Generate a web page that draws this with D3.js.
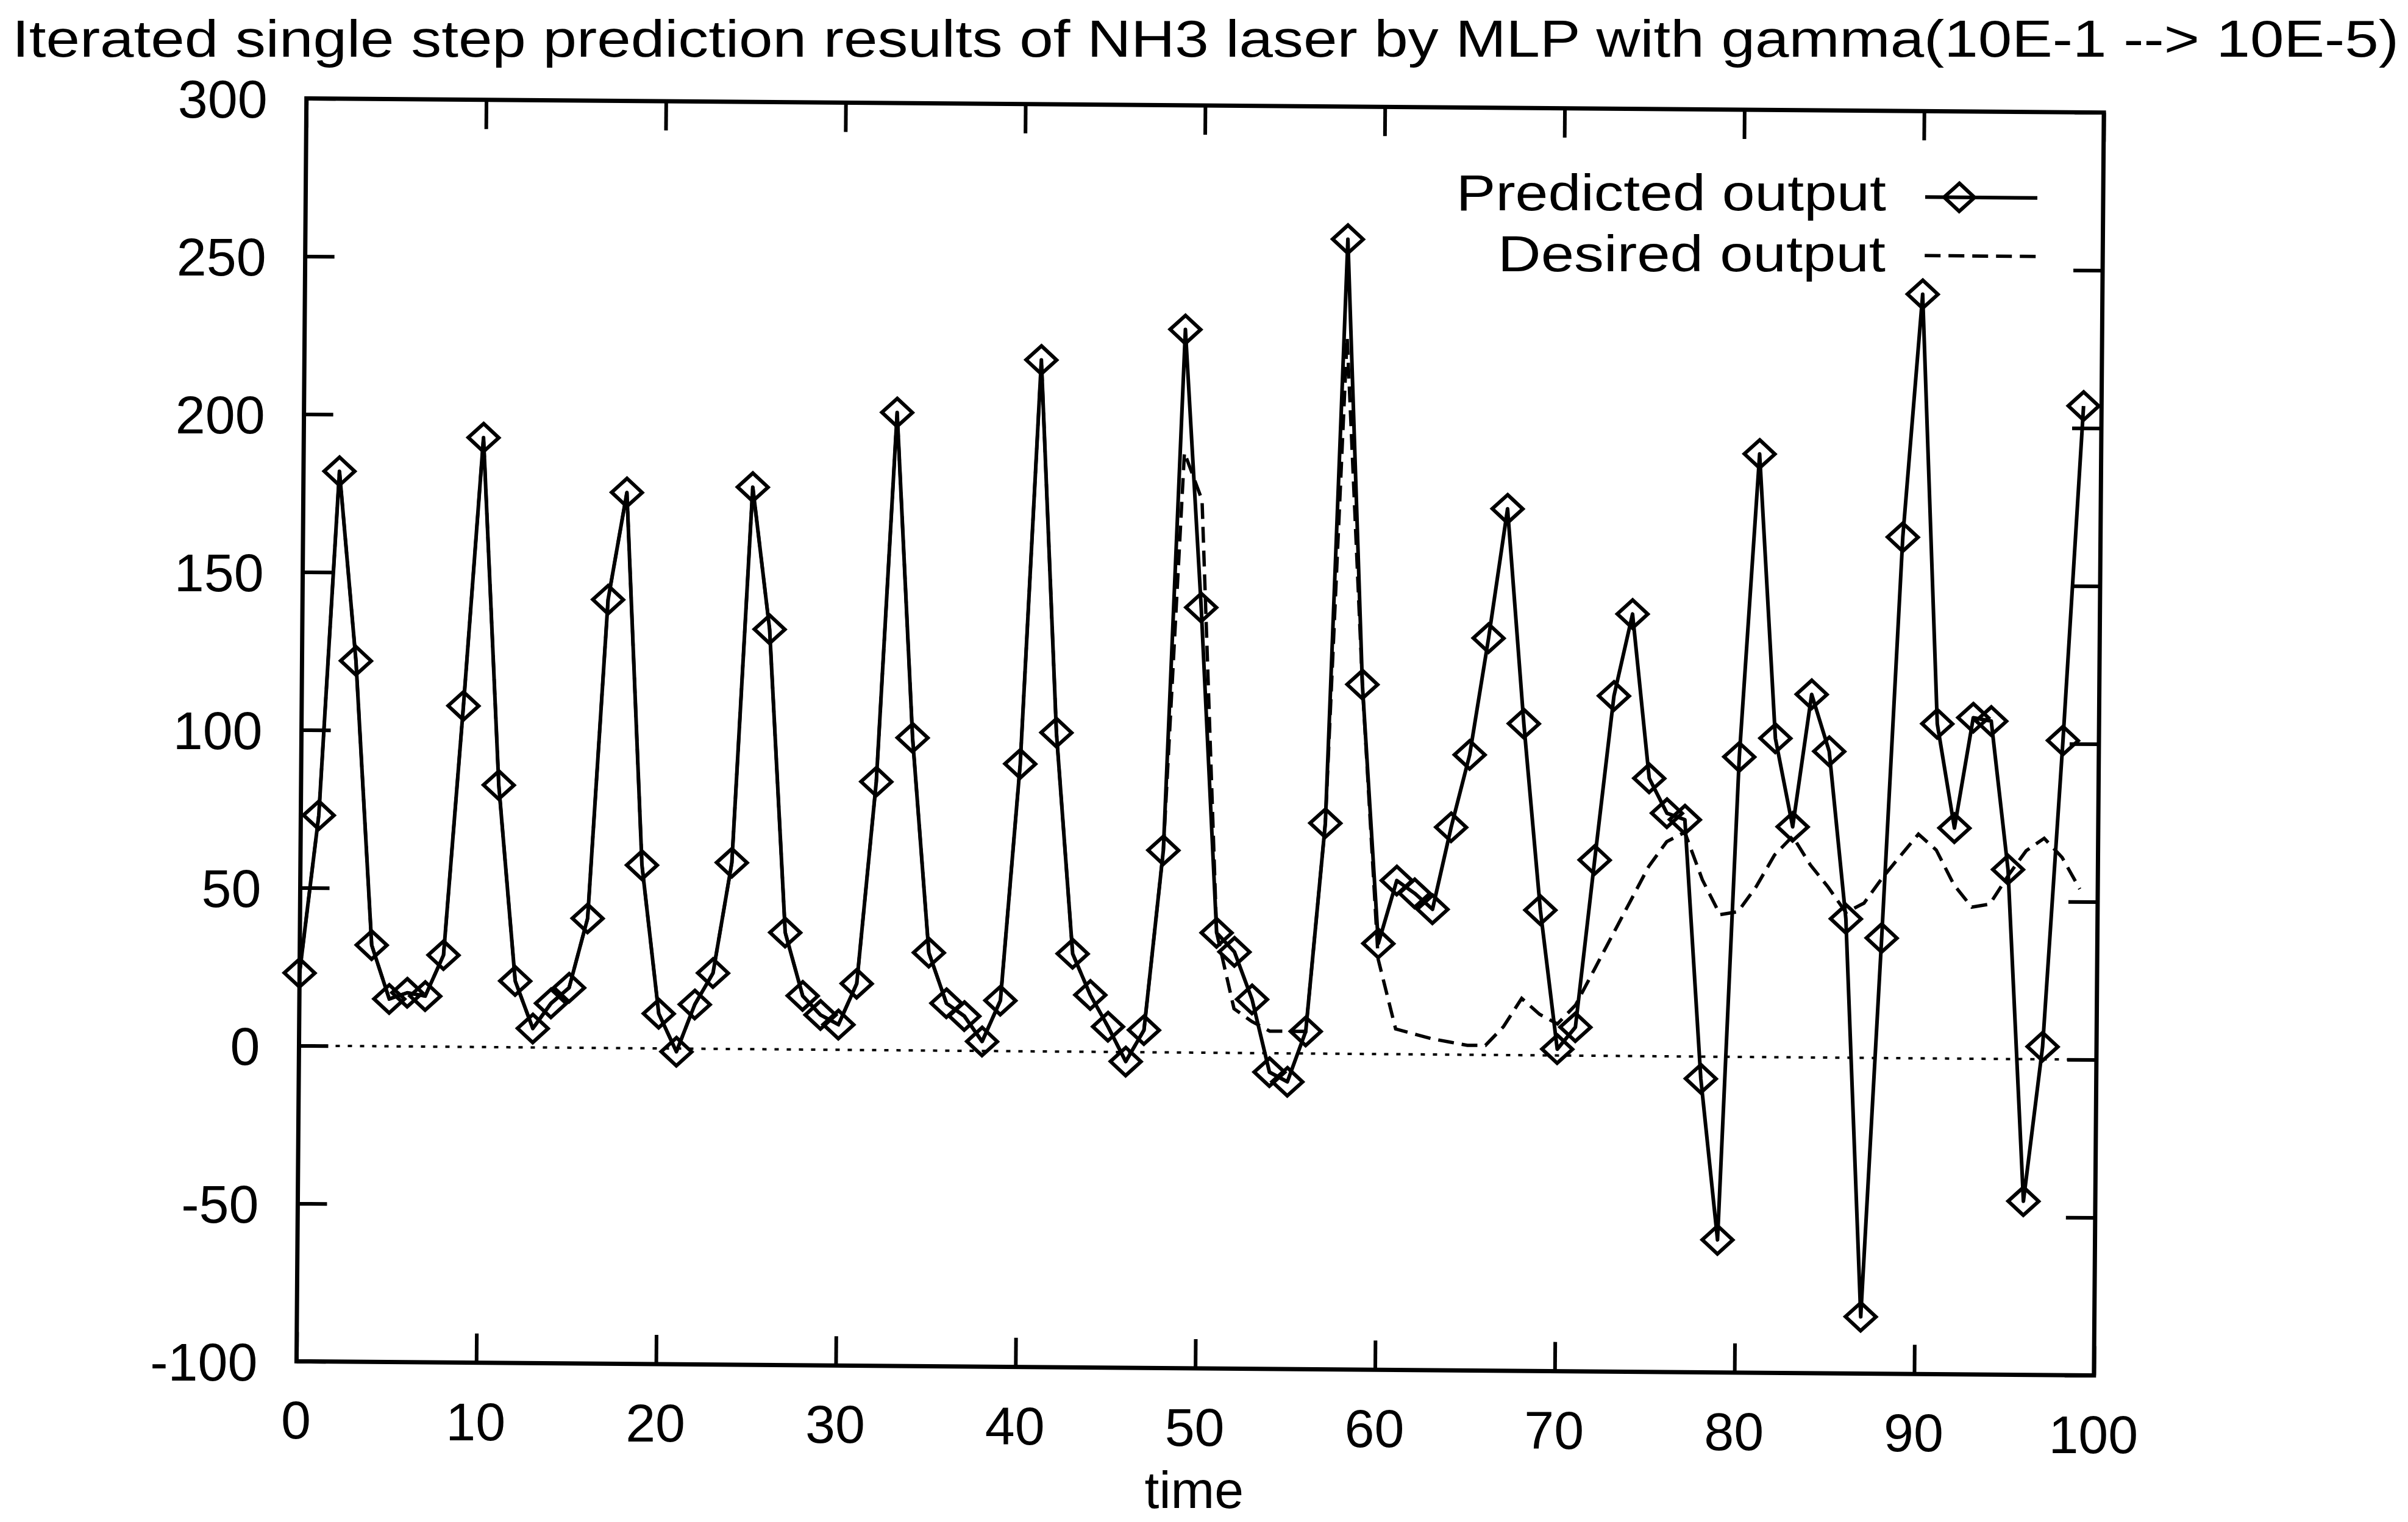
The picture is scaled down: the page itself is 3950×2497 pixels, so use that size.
<!DOCTYPE html>
<html>
<head>
<meta charset="utf-8">
<script src="https://cdn.jsdelivr.net/npm/d3@7"></script>
<style>
  html, body { margin: 0; padding: 0; background: #fff; }
  svg { display: block; }
  text { font-family: "Liberation Sans", Arial, Helvetica, sans-serif; fill: #000; }
</style>
</head>
<body>
<svg id="chart" width="3950" height="2497"></svg>
<script>
// Time steps of the iterated prediction
const times = [
  0, 1, 2, 3, 4, 5, 6, 7, 8, 9,
  10, 11, 12, 13, 14, 15, 16, 17, 18, 19,
  20, 21, 22, 23, 24, 25, 26, 27, 28, 29,
  30, 31, 32, 33, 34, 35, 36, 37, 38, 39,
  40, 41, 42, 43, 44, 45, 46, 47, 48, 49,
  50, 51, 52, 53, 54, 55, 56, 57, 58, 59,
  60, 61, 62, 63, 64, 65, 66, 67, 68, 69,
  70, 71, 72, 73, 74, 75, 76, 77, 78, 79,
  80, 81, 82, 83, 84, 85, 86, 87, 88, 89,
  90, 91, 92, 93, 94, 95, 96, 97, 98, 99
];

// Network output (line with diamond markers)
const predicted = [
  23, 73, 182, 122, 32, 15, 17, 16, 29, 108,
  193, 83, 21, 6, 14, 19, 41, 142, 176, 58,
  11, -1, 14, 24, 59, 178, 133, 37, 17, 11,
  8, 21, 85, 202, 99, 31, 15, 11, 3, 16,
  91, 219, 101, 31, 18, 8, -3, 7, 64, 229,
  141, 38, 32, 17, -6, -9, 7, 73, 258, 117,
  35, 55, 51, 46, 72, 95, 132, 173, 105, 46,
  2, 9, 62, 114, 140, 88, 77, 75, -7, -58,
  95, 191, 101, 73, 115, 97, 44, -82, 38, 165,
  242, 106, 73, 108, 107, 60, -45, 4, 101, 207
];

// NH3 laser target series (dashed line)
const desired = [
  23, 73, 182, 122, 32, 15, 17, 16, 29, 108,
  193, 83, 21, 6, 14, 19, 41, 142, 176, 58,
  11, -1, 14, 24, 59, 178, 133, 37, 17, 11,
  8, 21, 85, 202, 99, 31, 15, 11, 3, 16,
  91, 219, 101, 31, 18, 8, -3, 7, 64, 190,
  175, 38, 14, 10, 7, 7, 7, 73, 227, 117,
  30, 8, 6.5, 5, 4, 3, 3, 9, 18, 13,
  10, 16, 27, 38, 49, 60, 68, 71, 56, 45,
  46, 54, 64, 70, 61, 54, 46, 49, 57, 64,
  71, 66, 55, 48, 49, 58, 66, 70, 64, 54
];

const xTickValues = [0, 10, 20, 30, 40, 50, 60, 70, 80, 90, 100];
const yTickValues = [-100, -50, 0, 50, 100, 150, 200, 250, 300];
const titleText = "Iterated single step prediction results of NH3 laser by MLP with gamma(10E-1 --> 10E-5)";
const xAxisLabel = "time";
const seriesLabels = ["Predicted output", "Desired output"];

// ---- layout ----
const W = 3950, H = 2497;
const plot = { left: 494.5, right: 3443, top: 173, bottom: 2245 };
const cx = (plot.left + plot.right) / 2, cy = (plot.top + plot.bottom) / 2;
const tiltDeg = 0.45;
const tickLen = 48;
const fontStack = '"Liberation Sans", Arial, Helvetica, sans-serif';
const plainNumber = d => String(d);   // ASCII hyphen for negatives

// map a point of the untilted layout onto the tilted figure
const tilt = tiltDeg * Math.PI / 180;
const rot = (px, py) => [
  cx + (px - cx) * Math.cos(tilt) - (py - cy) * Math.sin(tilt),
  cy + (px - cx) * Math.sin(tilt) + (py - cy) * Math.cos(tilt)
];

const x = d3.scaleLinear().domain([0, 100]).range([plot.left, plot.right]);
const y = d3.scaleLinear().domain([-100, 300]).range([plot.bottom, plot.top]);

const svg = d3.select("#chart");
svg.append("rect").attr("width", W).attr("height", H).attr("fill", "#fff");

// graphics of the figure sit at a slight tilt; text stays upright at the tilted anchors
const g = svg.append("g").attr("transform", `rotate(${tiltDeg} ${cx} ${cy})`);
const labels = svg.append("g").attr("font-family", fontStack);

// title
labels.append("text")
  .attr("x", rot(cx, 93)[0])
  .attr("y", 93)
  .attr("text-anchor", "middle")
  .attr("font-size", 86)
  .attr("textLength", 3915)
  .attr("lengthAdjust", "spacingAndGlyphs")
  .text(titleText);

// ---- axes: inward ticks on all four sides ----
function styleAxis(sel) {
  sel.select(".domain").remove();
  sel.selectAll(".tick line").attr("stroke", "#000").attr("stroke-width", 6);
  sel.selectAll(".tick text").remove();
}

g.append("g")
  .attr("transform", `translate(${plot.left},0)`)
  .call(d3.axisLeft(y).tickValues(yTickValues).tickSizeInner(-tickLen).tickSizeOuter(0))
  .call(styleAxis);
g.append("g")
  .attr("transform", `translate(${plot.right},0)`)
  .call(d3.axisRight(y).tickValues(yTickValues).tickSizeInner(-tickLen).tickSizeOuter(0))
  .call(styleAxis);
g.append("g")
  .attr("transform", `translate(0,${plot.top})`)
  .call(d3.axisTop(x).tickValues(xTickValues).tickSizeInner(-tickLen).tickSizeOuter(0))
  .call(styleAxis);
g.append("g")
  .attr("transform", `translate(0,${plot.bottom})`)
  .call(d3.axisBottom(x).tickValues(xTickValues).tickSizeInner(-tickLen).tickSizeOuter(0))
  .call(styleAxis);

// tick labels
labels.append("g")
  .attr("font-size", 88)
  .attr("text-anchor", "end")
  .selectAll("text")
  .data(yTickValues)
  .join("text")
  .each(function (d) {
    const [px, py] = rot(plot.left - 64, y(d));
    d3.select(this).attr("x", px).attr("y", py);
  })
  .attr("dy", "0.36em")
  .text(plainNumber);

labels.append("g")
  .attr("font-size", 88)
  .attr("text-anchor", "middle")
  .selectAll("text")
  .data(xTickValues)
  .join("text")
  .each(function (d) {
    const [px, py] = rot(x(d), plot.bottom + 127);
    d3.select(this).attr("x", px).attr("y", py);
  })
  .text(plainNumber);

// x axis title
{
  const [px, py] = rot(x(50), 2474);
  labels.append("text")
    .attr("x", px).attr("y", py)
    .attr("text-anchor", "middle")
    .attr("font-size", 86)
    .text(xAxisLabel);
}

// plot frame
g.append("rect")
  .attr("x", plot.left).attr("y", plot.top)
  .attr("width", plot.right - plot.left).attr("height", plot.bottom - plot.top)
  .attr("fill", "none").attr("stroke", "#000").attr("stroke-width", 7);

// dotted zero reference line
g.append("line")
  .attr("x1", x(0)).attr("x2", x(100))
  .attr("y1", y(0)).attr("y2", y(0))
  .attr("stroke", "#000").attr("stroke-width", 4)
  .attr("stroke-dasharray", "7,13");

// ---- series ----
const line = d3.line().x((d, i) => x(times[i])).y(d => y(d));

g.append("path")
  .datum(desired)
  .attr("d", line)
  .attr("fill", "none").attr("stroke", "#000").attr("stroke-width", 5.5)
  .attr("stroke-dasharray", "26,13");

g.append("path")
  .datum(predicted)
  .attr("d", line)
  .attr("fill", "none").attr("stroke", "#000").attr("stroke-width", 6)
  .attr("stroke-linejoin", "round");

// open diamond marker
const diamondType = {
  draw(ctx, size) {
    const r = Math.sqrt(size) / 2;
    const h = r * 0.92;
    ctx.moveTo(0, -h);
    ctx.lineTo(r, 0);
    ctx.lineTo(0, h);
    ctx.lineTo(-r, 0);
    ctx.closePath();
  }
};
const diamond = d3.symbol().type(diamondType).size(50 * 50);

g.append("g")
  .selectAll("path")
  .data(predicted)
  .join("path")
  .attr("transform", (d, i) => `translate(${x(times[i])},${y(d)})`)
  .attr("d", diamond)
  .attr("fill", "none").attr("stroke", "#000").attr("stroke-width", 6);

// ---- legend ----
const keyX0 = 3151, keyX1 = 3335, textRight = 3087;
const legendText = labels.append("g").attr("font-size", 84).attr("text-anchor", "end");
[[seriesLabels[0], 336, 705], [seriesLabels[1], 436, 636]].forEach(([label, by, len]) => {
  const [px, py] = rot(textRight, by);
  legendText.append("text")
    .attr("x", px).attr("y", py)
    .attr("textLength", len)
    .attr("lengthAdjust", "spacingAndGlyphs")
    .text(label);
});

g.append("line")
  .attr("x1", keyX0).attr("x2", keyX1).attr("y1", 314).attr("y2", 314)
  .attr("stroke", "#000").attr("stroke-width", 6);
g.append("path")
  .attr("transform", `translate(3207,314)`)
  .attr("d", diamond)
  .attr("fill", "none").attr("stroke", "#000").attr("stroke-width", 6);
g.append("line")
  .attr("x1", keyX0).attr("x2", keyX1).attr("y1", 410).attr("y2", 410)
  .attr("stroke", "#000").attr("stroke-width", 5.5)
  .attr("stroke-dasharray", "26,13");
</script>
</body>
</html>
